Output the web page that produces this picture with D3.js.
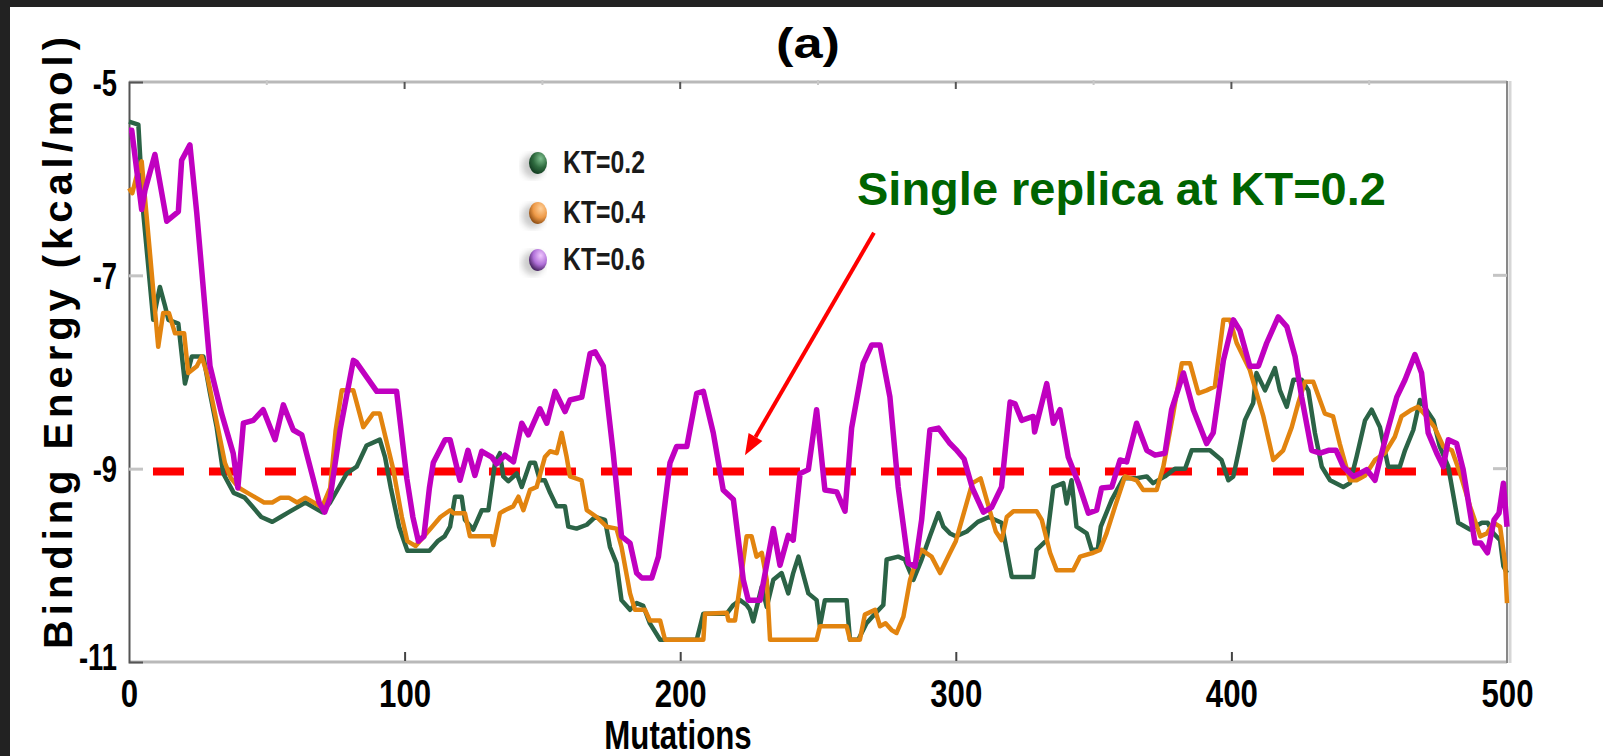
<!DOCTYPE html>
<head>
  <meta charset="utf-8">
  <script src="https://d3js.org/d3.v7.min.js"></script>
  <style>
    body { margin:0; background:#222; overflow:hidden; }
    text { font-family: "Liberation Sans", Arial, sans-serif; font-weight: bold; }
  </style>
</head>
<body>
<script>

  // data: [mutation, binding energy]
  var kt02 = [[0,-5.41],[3.4,-5.44],[5.2,-6.36],[8.8,-7.46],[11.2,-7.12],[13.1,-7.32],[14.3,-7.46],[17.9,-7.5],[20.3,-8.12],[22.8,-7.84],[27,-7.84],[29.4,-8.22],[31.8,-8.57],[34.2,-9.05],[38,-9.25],[42,-9.3],[45,-9.4],[48,-9.5],[52,-9.55],[55,-9.5],[58,-9.45],[61,-9.4],[64,-9.35],[67,-9.4],[70,-9.45],[73,-9.35],[76,-9.2],[79,-9.05],[82.6,-8.98],[86.2,-8.76],[91,-8.7],[92.9,-8.88],[95,-9.2],[98,-9.6],[101,-9.85],[105,-9.85],[109,-9.85],[112,-9.75],[114.5,-9.7],[116.5,-9.6],[118.3,-9.29],[120.7,-9.29],[121.9,-9.53],[124.9,-9.63],[128,-9.43],[130.4,-9.43],[132.8,-8.94],[134.6,-8.84],[135.8,-9.08],[137.6,-9.13],[140.7,-9.05],[142.5,-9.19],[145.5,-8.94],[147.3,-8.94],[149.1,-9.12],[150.9,-9.12],[152.8,-9.25],[155.2,-9.39],[158.2,-9.39],[159.4,-9.6],[162.4,-9.62],[166.1,-9.58],[169.1,-9.5],[172.7,-9.53],[174.5,-9.81],[176.9,-9.98],[178.7,-10.36],[181.8,-10.46],[184.2,-10.39],[186.6,-10.42],[189,-10.6],[192.7,-10.77],[206,-10.77],[208.4,-10.5],[216.9,-10.5],[219.3,-10.41],[221.7,-10.36],[224.1,-10.41],[225.3,-10.46],[226.5,-10.58],[229.6,-10.22],[231.4,-10.43],[233.8,-10.15],[236.8,-10.08],[239.2,-10.29],[241,-10.08],[242.9,-9.91],[246.5,-10.29],[249.5,-10.36],[250.7,-10.63],[252.5,-10.36],[260.4,-10.36],[261.6,-10.77],[264.6,-10.77],[267.6,-10.6],[270.7,-10.5],[273.7,-10.41],[274.9,-9.94],[279.1,-9.91],[281.5,-9.94],[284.6,-10.15],[287.6,-9.94],[290.6,-9.7],[293.7,-9.46],[295.5,-9.6],[297.9,-9.67],[300,-9.7],[304,-9.65],[308,-9.55],[312,-9.5],[316.6,-9.56],[320.3,-10.12],[328.1,-10.12],[329.3,-9.84],[333,-9.74],[335.4,-9.19],[339,-9.15],[340.2,-9.36],[342,-9.12],[343.8,-9.6],[347.5,-9.67],[349.3,-9.84],[351.5,-9.84],[352.6,-9.6],[356.6,-9.32],[360.8,-9.1],[365.6,-9.1],[369.3,-9.08],[371.6,-9.15],[375.9,-9.08],[379.5,-9.0],[383.2,-9.0],[385.6,-8.81],[392.2,-8.81],[396.4,-8.91],[398.9,-9.12],[400.7,-9.08],[402.5,-8.84],[404.9,-8.5],[407.9,-8.32],[409.1,-8.01],[412.2,-8.19],[415.8,-7.96],[417.6,-8.19],[420.1,-8.36],[422.5,-8.08],[425.5,-8.08],[427.9,-8.19],[430.3,-8.63],[432.8,-8.98],[435.8,-9.12],[440.6,-9.19],[443,-9.15],[445.4,-8.88],[448.5,-8.5],[450.9,-8.39],[453.9,-8.57],[456.9,-8.98],[461.1,-8.98],[463,-8.81],[466,-8.6],[468.4,-8.29],[473.3,-8.5],[475.6,-8.77],[478.7,-8.98],[482.3,-9.56],[486.6,-9.63],[490.9,-9.56],[493,-9.56],[495.1,-9.67],[497.5,-9.74],[498.7,-10.01],[500,-10.08]]

  var kt04 = [[0,-6.1],[1.2,-6.15],[2.5,-6.0],[4.6,-5.82],[7.6,-6.77],[10.6,-7.74],[12.4,-7.39],[14.5,-7.39],[16.7,-7.6],[20,-7.6],[21.5,-8.01],[24.6,-7.94],[26.4,-7.84],[28.2,-8.01],[31.2,-8.43],[34.8,-8.94],[37,-9.1],[40,-9.2],[43,-9.25],[46,-9.3],[49,-9.35],[52,-9.35],[55,-9.3],[58,-9.3],[61,-9.35],[64,-9.3],[67,-9.35],[70,-9.4],[73,-9.2],[75,-8.6],[77.2,-8.19],[81.4,-8.19],[85,-8.57],[88.6,-8.43],[91,-8.43],[95.9,-9.01],[99,-9.5],[101,-9.75],[104,-9.8],[107,-9.7],[110,-9.6],[113,-9.5],[116.5,-9.43],[117.7,-9.46],[121.9,-9.46],[123.7,-9.7],[128.6,-9.7],[131.6,-9.7],[132.2,-9.79],[134.6,-9.46],[136.4,-9.43],[139.4,-9.39],[141.3,-9.29],[143.1,-9.43],[145.5,-9.22],[147.9,-9.19],[150.9,-8.88],[152.8,-8.82],[155.2,-8.84],[157,-8.63],[158.8,-8.88],[160,-9.08],[164.2,-9.12],[166.1,-9.43],[169.7,-9.5],[173.3,-9.6],[176.9,-9.62],[178.7,-9.81],[181.8,-10.29],[183.6,-10.46],[187.2,-10.46],[189,-10.57],[192.7,-10.57],[194.5,-10.77],[208.4,-10.77],[209,-10.5],[216.9,-10.49],[217.5,-10.57],[219.9,-10.57],[222.3,-10.08],[224.1,-9.7],[225.9,-9.7],[227.7,-9.91],[229.6,-9.87],[231.4,-10.15],[232.6,-10.77],[249.5,-10.77],[250.7,-10.63],[260.4,-10.63],[261.6,-10.77],[265.2,-10.77],[267,-10.51],[270.7,-10.46],[272.5,-10.63],[274.5,-10.6],[276.7,-10.67],[278.5,-10.7],[281,-10.53],[283.4,-10.15],[285.8,-9.94],[287.6,-9.84],[291.2,-9.91],[294.3,-10.08],[297.9,-9.87],[300,-9.75],[303,-9.45],[306,-9.15],[309,-9.1],[312,-9.4],[314.5,-9.65],[316.6,-9.74],[318.5,-9.5],[320.9,-9.44],[329.3,-9.44],[331.2,-9.53],[334.2,-9.87],[336.6,-10.05],[342.6,-10.05],[345.1,-9.91],[349.9,-9.87],[352.3,-9.84],[354.7,-9.67],[357.8,-9.39],[361.4,-9.08],[365.6,-9.12],[368,-9.22],[372.9,-9.22],[375.3,-8.98],[378.9,-8.43],[382,-7.91],[385,-7.91],[388,-8.22],[391,-8.19],[394,-8.15],[397.1,-7.46],[399.5,-7.46],[401.9,-7.7],[406.7,-7.98],[411.6,-8.46],[415.2,-8.91],[418.8,-8.81],[421.9,-8.57],[424.3,-8.32],[426.7,-8.1],[429.7,-8.1],[433.9,-8.43],[436.9,-8.46],[439.3,-8.74],[443,-9.12],[445.4,-9.12],[448.5,-9.07],[452.1,-8.91],[455.7,-8.84],[459.3,-8.67],[461.7,-8.46],[465.4,-8.39],[467.7,-8.36],[470.5,-8.45],[473.7,-8.57],[476.9,-8.77],[480,-8.81],[483,-9.05],[486.6,-9.39],[490.3,-9.7],[492.7,-9.67],[495.1,-9.56],[497.5,-9.6],[499.3,-9.98],[500,-10.39]]

  var kt06 = [[0,-5.5],[1,-5.5],[4.6,-6.32],[5.8,-6.12],[9.4,-5.75],[13.7,-6.44],[17.9,-6.34],[19.1,-5.81],[22.1,-5.65],[24.6,-6.36],[29.4,-7.94],[33.6,-8.43],[37.8,-8.84],[39.5,-9.2],[41.5,-8.53],[45.1,-8.5],[48.7,-8.39],[53,-8.7],[56,-8.34],[59.6,-8.6],[62.7,-8.65],[64.5,-8.85],[66.8,-9.1],[69,-9.35],[71,-9.45],[73,-9.3],[74,-9.1],[76.6,-8.6],[81.4,-7.88],[82.5,-7.9],[86.2,-8.05],[89.9,-8.2],[97.1,-8.2],[100.8,-9.1],[103,-9.5],[105,-9.75],[107,-9.7],[109,-9.2],[110.4,-8.94],[114.7,-8.7],[116.5,-8.7],[120.1,-9.12],[123,-8.81],[125.5,-9.07],[128,-8.82],[131.6,-8.88],[133.4,-8.95],[136.4,-8.86],[139.5,-8.93],[142.5,-8.53],[144.9,-8.65],[149.1,-8.38],[151.6,-8.53],[154.6,-8.2],[158.2,-8.41],[160,-8.29],[164.3,-8.26],[167.3,-7.81],[169.1,-7.79],[172.1,-7.94],[175.7,-8.84],[178.7,-9.7],[181.8,-9.77],[184.2,-10.08],[186,-10.13],[189.7,-10.13],[192.1,-9.91],[196.3,-8.94],[198.7,-8.77],[202.4,-8.77],[206,-8.22],[208.4,-8.2],[212,-8.63],[215.6,-9.22],[219.3,-9.32],[222.9,-10.15],[224.7,-10.36],[229,-10.36],[233.8,-9.62],[236.2,-10.0],[239.2,-9.69],[241,-9.74],[243.5,-9.05],[246.5,-9.01],[249.5,-8.39],[252.5,-9.22],[256.8,-9.24],[259.8,-9.44],[262.2,-8.58],[266.4,-7.91],[269.5,-7.72],[272.5,-7.72],[276.1,-8.26],[279.1,-9.19],[282.8,-9.98],[285.2,-10.01],[287.6,-9.53],[290.6,-8.6],[293.7,-8.58],[297.9,-8.74],[300,-8.8],[303,-8.9],[306,-9.2],[310,-9.45],[313,-9.4],[316.6,-9.19],[319.7,-8.31],[321.5,-8.33],[323.9,-8.5],[328.1,-8.46],[328.6,-8.62],[333,-8.12],[335.4,-8.53],[337.8,-8.39],[340.8,-8.88],[344.5,-9.15],[348.1,-9.46],[351.1,-9.43],[352.9,-9.2],[356.6,-9.19],[359.6,-8.91],[362,-8.93],[365.6,-8.53],[369.3,-8.81],[372.3,-8.86],[375.9,-8.84],[378.3,-8.39],[382.6,-8.01],[386.2,-8.39],[391,-8.74],[393.4,-8.63],[397.1,-7.88],[400.7,-7.46],[403.1,-7.57],[406.7,-7.94],[409.8,-7.94],[412.8,-7.7],[417,-7.43],[420.1,-7.53],[423.1,-7.84],[425.5,-8.26],[429.1,-8.81],[432.2,-8.84],[435.2,-8.81],[438,-8.81],[440.6,-8.98],[444.2,-9.08],[446.6,-9.05],[449.1,-9.01],[452.1,-9.12],[453.9,-8.91],[456.9,-8.58],[460,-8.26],[463,-8.08],[466.6,-7.82],[469,-8.01],[471.4,-8.63],[474.5,-8.84],[476.9,-8.98],[478.7,-8.7],[481.7,-8.74],[484.1,-9.01],[488.4,-9.77],[490.5,-9.77],[492.9,-9.87],[495.3,-9.53],[497.1,-9.46],[498.7,-9.15],[500,-9.6]]

  var seriesNames = ["KT=0.2", "KT=0.4", "KT=0.6"]
  var xTicks = [0, 100, 200, 300, 400, 500]
  var yTicks = [-5, -7, -9, -11]
  var refLine = { energy: -9.03, from: 8.7, to: 484.8 }   // single replica level
  var arrowFrom = [270.3, -6.56], arrowTo = [223.5, -8.86]

  var W = 1603, H = 756
  var svg = d3.select("body").append("svg")
    .attr("width", W).attr("height", H)

  // squeeze a text horizontally (the figure uses a narrow face)
  function narrow(sel, k) {
    sel.each(function() {
      var len = this.getComputedTextLength()
      d3.select(this).attr("textLength", len * k).attr("lengthAdjust", "spacingAndGlyphs")
    })
  }

  // dark frame, white page
  svg.append("rect").attr("width", W).attr("height", H).attr("fill", "#222")
  svg.append("rect").attr("x", 10).attr("y", 7).attr("width", W - 10).attr("height", H - 7).attr("fill", "#fff")

  var x = d3.scaleLinear().domain([0, 500]).range([129, 1507])
  var y = d3.scaleLinear().domain([-5, -11]).range([82, 662])

  // frame of the plot
  svg.append("line").attr("x1", 129).attr("x2", 1507).attr("y1", 82).attr("y2", 82)
    .attr("stroke", "#b9b9b9").attr("stroke-width", 3)
  svg.append("line").attr("x1", 129).attr("x2", 1507).attr("y1", 662).attr("y2", 662)
    .attr("stroke", "#b9b9b9").attr("stroke-width", 3)
  svg.append("line").attr("x1", 1510).attr("x2", 1510).attr("y1", 81).attr("y2", 663)
    .attr("stroke", "#d6d6d6").attr("stroke-width", 3)
  svg.append("line").attr("x1", 1507).attr("x2", 1507).attr("y1", 81).attr("y2", 663)
    .attr("stroke", "#888").attr("stroke-width", 2)

  // minor ticks
  var minor = [50, 150, 250, 350, 450]
  svg.selectAll(".mt").data(minor).enter().append("line")
    .attr("x1", d => x(d)).attr("x2", d => x(d)).attr("y1", 80).attr("y2", 85)
    .attr("stroke", "#c8c8c8").attr("stroke-width", 2)

  // x axis
  var xAxis = d3.axisBottom(x).tickValues(xTicks).tickSize(-9).tickPadding(0)
  var gx = svg.append("g").attr("transform", "translate(0,661)").call(xAxis)
  gx.select(".domain").remove()
  gx.selectAll(".tick line").attr("stroke", "#444").attr("stroke-width", 2)
    .filter(d => d == 0 || d == 500).remove()
  gx.selectAll(".tick text").attr("y", 46).attr("dy", 0)
    .attr("font-size", 39).attr("fill", "#000")
    .call(narrow, 0.8)

  // top ticks
  svg.selectAll(".tt").data([100, 200, 300, 400]).enter().append("line")
    .attr("x1", d => x(d)).attr("x2", d => x(d)).attr("y1", 82).attr("y2", 89)
    .attr("stroke", "#555").attr("stroke-width", 2)

  // y axis
  var yAxis = d3.axisLeft(y).tickValues(yTicks).tickSize(-14).tickPadding(12)
    .tickFormat(d => String(d))
  var gy = svg.append("g").attr("transform", "translate(129,0)").call(yAxis)
  gy.select(".domain").attr("stroke", "#555").attr("stroke-width", 2)
  gy.selectAll(".tick line").attr("stroke", "#c4c4c4").attr("stroke-width", 3)
    .filter(d => d == -5 || d == -11).remove()
  gy.selectAll(".tick text").attr("font-size", 37).attr("fill", "#000")
    .attr("dy", d => d == -11 ? "0.2em" : "0.36em")
    .call(narrow, 0.74)

  svg.selectAll(".rt").data([-7, -9]).enter().append("line")
    .attr("x1", 1493).attr("x2", 1507).attr("y1", d => y(d)).attr("y2", d => y(d))
    .attr("stroke", "#c4c4c4").attr("stroke-width", 3)

  // red dashed reference line
  svg.append("line")
    .attr("x1", x(refLine.from)).attr("x2", x(refLine.to))
    .attr("y1", y(refLine.energy)).attr("y2", y(refLine.energy))
    .attr("stroke", "#ff0000").attr("stroke-width", 8)
    .attr("stroke-dasharray", "31,25")

  // series
  var line = d3.line()
    .x(d => x(d[0]))
    .y(d => y(d[1]))

  var colors = ["#2b6346", "#e2840f", "#c000c0"]
  var widths = [4.5, 4.5, 5.5]
  var all = [kt02, kt04, kt06]

  svg.selectAll(".series").data(all).enter()
    .append("path")
    .attr("class", "series")
    .attr("d", d => line(d))
    .attr("fill", "none")
    .attr("stroke", (d, i) => colors[i])
    .attr("stroke-width", (d, i) => widths[i])
    .attr("stroke-linejoin", "round")

  // legend with little shaded balls
  var defs = svg.append("defs")
  var ball = [["#7fc08f", "#2f6b3f", "#123a20"], ["#ffd09a", "#ee9a48", "#8a4a10"], ["#f0c8ff", "#b070d8", "#3d1d55"]]
  ball.forEach(function(c, i) {
    var g = defs.append("radialGradient").attr("id", "ball" + i)
      .attr("cx", "65%").attr("cy", "30%").attr("r", "75%")
    g.append("stop").attr("offset", "0%").attr("stop-color", c[0])
    g.append("stop").attr("offset", "55%").attr("stop-color", c[1])
    g.append("stop").attr("offset", "100%").attr("stop-color", c[2])
  })
  defs.append("filter").attr("id", "soft").append("feGaussianBlur").attr("stdDeviation", 3)

  var legY = [163, 213, 260], textY = [173, 223, 270]
  var leg = svg.selectAll(".leg").data(seriesNames).enter().append("g")
  leg.append("ellipse")
    .attr("cx", 533).attr("cy", (d, i) => legY[i] + 3).attr("rx", 11).attr("ry", 12)
    .attr("fill", "#999").attr("opacity", 0.5).attr("filter", "url(#soft)")
  leg.append("ellipse")
    .attr("cx", 538).attr("cy", (d, i) => legY[i]).attr("rx", 9).attr("ry", 11)
    .attr("fill", (d, i) => "url(#ball" + i + ")")
  leg.append("text")
    .attr("x", 563).attr("y", (d, i) => textY[i])
    .attr("font-size", 31).attr("fill", "#1a1a1a")
    .text(d => d)
    .call(narrow, 0.8)

  // annotation
  svg.append("text")
    .attr("x", 857).attr("y", 205)
    .attr("font-size", 47).attr("fill", "#006400")
    .text("Single replica at KT=0.2")

  var ax1 = x(arrowFrom[0]), ay1 = y(arrowFrom[1]), ax2 = x(arrowTo[0]), ay2 = y(arrowTo[1])
  var ang = Math.atan2(ay2 - ay1, ax2 - ax1), hl = 21, hw = 8
  var bx = ax2 - hl * Math.cos(ang), by = ay2 - hl * Math.sin(ang)
  svg.append("line")
    .attr("x1", ax1).attr("y1", ay1).attr("x2", bx).attr("y2", by)
    .attr("stroke", "#ff0000").attr("stroke-width", 4)
  svg.append("path")
    .attr("d", "M" + ax2 + "," + ay2 +
      "L" + (bx + hw * Math.sin(ang)) + "," + (by - hw * Math.cos(ang)) +
      "L" + (bx - hw * Math.sin(ang)) + "," + (by + hw * Math.cos(ang)) + "Z")
    .attr("fill", "#ff0000")

  // titles
  svg.append("text").attr("x", 808).attr("y", 58)
    .attr("text-anchor", "middle").attr("font-size", 42)
    .attr("textLength", 64).attr("lengthAdjust", "spacingAndGlyphs")
    .text("(a)")

  svg.append("text").attr("x", 678).attr("y", 749)
    .attr("text-anchor", "middle").attr("font-size", 40)
    .text("Mutations")
    .call(narrow, 0.78)

  svg.append("text")
    .attr("transform", "translate(72,343) rotate(-90)")
    .attr("text-anchor", "middle").attr("font-size", 40)
    .attr("textLength", 612).attr("lengthAdjust", "spacing")
    .text("Binding Energy (kcal/mol)")

</script>
</body>
